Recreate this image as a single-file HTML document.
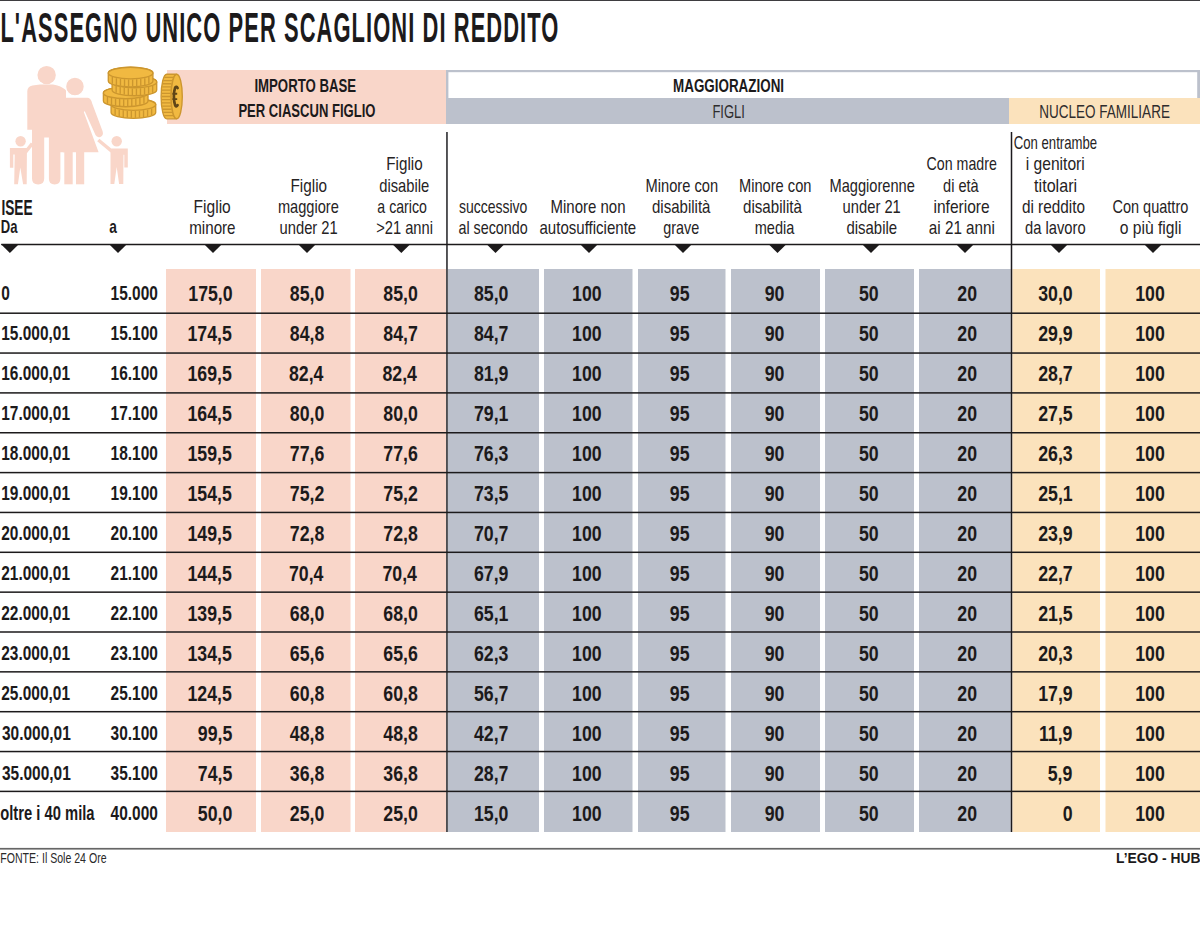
<!DOCTYPE html><html lang="it"><head><meta charset="utf-8"><title>L'assegno unico per scaglioni di reddito</title>
<style>html,body{margin:0;padding:0;background:#fff;width:1200px;height:947px;overflow:hidden;}svg{display:block;}text{font-family:"Liberation Sans",Arial,sans-serif;}</style></head><body>
<svg width="1200" height="947" viewBox="0 0 1200 947">
<rect width="1200" height="947" fill="#fff"/>
<rect x="0" y="0" width="1200" height="1" fill="#3e3d40"/>
<rect x="167" y="70" width="279" height="54" fill="#f9d6c9"/>
<rect x="446" y="70" width="754" height="2.2" fill="#bcc1cc"/>
<rect x="446" y="70" width="2.4" height="30" fill="#bcc1cc"/>
<rect x="1197.2" y="70" width="2.8" height="30" fill="#bcc1cc"/>
<rect x="446" y="98" width="563" height="26" fill="#bcc1cc"/>
<rect x="1009" y="98" width="191" height="26" fill="#fbe2bc"/>
<g fill="#f9d6c9">
<circle cx="46.65" cy="75.1" r="9.2"/>
<path d="M27.3,91.5 Q27.3,86.6 32.5,85.6 L40,84.6 L53,84.6 Q60,85.5 66,90 L66,152.3 L60.4,152.3 L60.4,178.5 Q60.4,184.4 54.6,184.4 Q48.9,184.4 48.9,178.5 L48.9,137.6 L44.2,137.6 L44.2,178.5 Q44.2,184.4 38.1,184.4 Q32,184.4 32,178.5 L32,129.7 L27.3,129.7 Z"/>
<path d="M63,97.7 L87.2,97.7 Q91,97.7 92.2,103.5 L102.6,131.3 Q103.9,135.6 100.4,136.9 Q97,137.9 95.5,135.1 L85.1,111.9 Q84.5,110.5 83.8,112 L98.6,152.2 L63,152.2 Z"/>
<rect x="64.3" y="151" width="8.4" height="33.3"/>
<rect x="76" y="151" width="8.2" height="33.3"/>
<circle cx="74.95" cy="86.5" r="9.4" fill="#f9d6c9" stroke="#fff" stroke-width="1.3"/>
<circle cx="20.6" cy="141.3" r="5.2"/>
<path d="M9.9,148.1 L26.6,148.1 L30.9,142.6 L33.6,144.8 L27.8,152.1 L26.9,153.3 L26.7,184.2 L23.1,184.2 L20.3,167.4 L17.9,184.2 L14.2,184.2 L14.7,154.5 L13.3,154.5 L13.3,167.7 L9.9,167.7 Z"/>
<circle cx="116.7" cy="141.2" r="5.2"/>
<path d="M127.8,148.4 L111.2,148.4 L99.4,138.7 L97.2,141.3 L109.5,151.6 L110.5,152.5 L110.5,184.1 L114.3,184.1 L116.7,167 L119.1,184.1 L123.3,184.1 L123.5,154.8 L124.3,154.8 L124.3,167.6 L127.8,167.6 Z"/>
</g>
<path d="M111.10,104.60 L111.10,112.60 A22.30,5.80 0 0 0 155.70,112.60 L155.70,104.60 A22.30,5.80 0 0 0 111.10,104.60 Z" fill="#f1b941" stroke="#cc962e" stroke-width="1.35"/><path d="M115.15,108.53 L115.15,115.33 M119.21,109.67 L119.21,116.47 M123.26,110.37 L123.26,117.17 M127.32,110.78 L127.32,117.58 M131.37,110.98 L131.37,117.78 M135.43,110.98 L135.43,117.78 M139.48,110.78 L139.48,117.58 M143.54,110.37 L143.54,117.17 M147.59,109.67 L147.59,116.47 M151.65,108.53 L151.65,115.33 " stroke="#cc962e" stroke-width="1.35" fill="none"/><ellipse cx="133.40" cy="104.60" rx="22.30" ry="5.80" fill="#f1b941" stroke="#cc962e" stroke-width="1.35"/>
<path d="M103.40,92.90 L103.40,100.90 A22.30,5.80 0 0 0 148.00,100.90 L148.00,92.90 A22.30,5.80 0 0 0 103.40,92.90 Z" fill="#f1b941" stroke="#cc962e" stroke-width="1.35"/><path d="M107.45,96.83 L107.45,103.63 M111.51,97.97 L111.51,104.77 M115.56,98.67 L115.56,105.47 M119.62,99.08 L119.62,105.88 M123.67,99.28 L123.67,106.08 M127.73,99.28 L127.73,106.08 M131.78,99.08 L131.78,105.88 M135.84,98.67 L135.84,105.47 M139.89,97.97 L139.89,104.77 M143.95,96.83 L143.95,103.63 " stroke="#cc962e" stroke-width="1.35" fill="none"/><ellipse cx="125.70" cy="92.90" rx="22.30" ry="5.80" fill="#f1b941" stroke="#cc962e" stroke-width="1.35"/>
<path d="M112.10,82.00 L112.10,90.00 A22.30,5.80 0 0 0 156.70,90.00 L156.70,82.00 A22.30,5.80 0 0 0 112.10,82.00 Z" fill="#f1b941" stroke="#cc962e" stroke-width="1.35"/><path d="M116.15,85.93 L116.15,92.73 M120.21,87.07 L120.21,93.87 M124.26,87.77 L124.26,94.57 M128.32,88.18 L128.32,94.98 M132.37,88.38 L132.37,95.18 M136.43,88.38 L136.43,95.18 M140.48,88.18 L140.48,94.98 M144.54,87.77 L144.54,94.57 M148.59,87.07 L148.59,93.87 M152.65,85.93 L152.65,92.73 " stroke="#cc962e" stroke-width="1.35" fill="none"/><ellipse cx="134.40" cy="82.00" rx="22.30" ry="5.80" fill="#f1b941" stroke="#cc962e" stroke-width="1.35"/>
<path d="M108.30,73.10 L108.30,81.10 A22.30,5.80 0 0 0 152.90,81.10 L152.90,73.10 A22.30,5.80 0 0 0 108.30,73.10 Z" fill="#f1b941" stroke="#cc962e" stroke-width="1.35"/><path d="M112.35,77.03 L112.35,83.83 M116.41,78.17 L116.41,84.97 M120.46,78.87 L120.46,85.67 M124.52,79.28 L124.52,86.08 M128.57,79.48 L128.57,86.28 M132.63,79.48 L132.63,86.28 M136.68,79.28 L136.68,86.08 M140.74,78.87 L140.74,85.67 M144.79,78.17 L144.79,84.97 M148.85,77.03 L148.85,83.83 " stroke="#cc962e" stroke-width="1.35" fill="none"/><ellipse cx="130.60" cy="73.10" rx="22.30" ry="5.80" fill="#f1b941" stroke="#cc962e" stroke-width="1.35"/>
<path d="M176.70,74.20 L166.70,74.20 A5.60,22.30 0 0 0 166.70,118.80 L176.70,118.80 A5.60,22.30 0 0 1 176.70,74.20 Z" fill="#f1b941" stroke="#cc962e" stroke-width="1.35"/>
<path d="M164.42,77.39 L173.22,77.39 M163.38,80.57 L172.18,80.57 M162.70,83.76 L171.50,83.76 M162.24,86.94 L171.04,86.94 M161.93,90.13 L170.73,90.13 M161.76,93.31 L170.56,93.31 M161.70,96.50 L170.50,96.50 M161.76,99.69 L170.56,99.69 M161.93,102.87 L170.73,102.87 M162.24,106.06 L171.04,106.06 M162.70,109.24 L171.50,109.24 M163.38,112.43 L172.18,112.43 M164.42,115.61 L173.22,115.61 " stroke="#cc962e" stroke-width="1.35" fill="none"/>
<ellipse cx="176.70" cy="96.50" rx="5.60" ry="22.30" fill="#f1b941" stroke="#cc962e" stroke-width="1.35"/>
<g fill="none" stroke="#5f4517" stroke-linecap="butt">
<path d="M177.6,88.0 Q176.5,85.7 175.2,87.6 Q173.9,91 173.9,96.5 Q173.9,102.2 175.2,105.4 Q176.5,107.4 177.6,105.2" stroke-width="2.7" stroke-linecap="round"/>
<path d="M172.4,93.7 L177.2,93.7 M172.4,99.1 L177.2,99.1" stroke-width="1.9"/>
</g>
<text transform="translate(0.42,0) scale(0.5270,1)" x="0" y="42.30" font-size="41.6" font-weight="bold" fill="#1c1a1b" textLength="1058.81" lengthAdjust="spacing">L'ASSEGNO UNICO PER SCAGLIONI DI REDDITO</text>
<text x="254.39" y="91.80" font-size="18.6" font-weight="bold" fill="#1c1a1b" textLength="101.80" lengthAdjust="spacingAndGlyphs">IMPORTO BASE</text>
<text x="238.40" y="117.40" font-size="18.6" font-weight="bold" fill="#1c1a1b" textLength="137.08" lengthAdjust="spacingAndGlyphs">PER CIASCUN FIGLIO</text>
<text x="673.08" y="91.90" font-size="18.6" font-weight="bold" fill="#1c1a1b" textLength="110.99" lengthAdjust="spacingAndGlyphs">MAGGIORAZIONI</text>
<text x="712.39" y="117.80" font-size="18.4" fill="#2e2c2d" textLength="32.51" lengthAdjust="spacingAndGlyphs">FIGLI</text>
<text x="1039.27" y="117.90" font-size="18.4" fill="#2e2c2d" textLength="130.64" lengthAdjust="spacingAndGlyphs">NUCLEO FAMILIARE</text>
<text x="1.38" y="214.80" font-size="22" font-weight="bold" fill="#1c1a1b" textLength="31.21" lengthAdjust="spacingAndGlyphs">ISEE</text>
<text x="0.81" y="232.80" font-size="19" font-weight="bold" fill="#1c1a1b" textLength="16.70" lengthAdjust="spacingAndGlyphs">Da</text>
<text x="109.28" y="232.80" font-size="19" font-weight="bold" fill="#1c1a1b" textLength="7.62" lengthAdjust="spacingAndGlyphs">a</text>
<text x="0.27" y="862.80" font-size="14.4" fill="#2a2a2a" textLength="106.28" lengthAdjust="spacingAndGlyphs">FONTE: Il Sole 24 Ore</text>
<text x="193.58" y="212.50" font-size="19.0" fill="#262324" textLength="37.15" lengthAdjust="spacingAndGlyphs">Figlio</text>
<text x="189.20" y="233.60" font-size="19.0" fill="#262324" textLength="46.36" lengthAdjust="spacingAndGlyphs">minore</text>
<text x="290.50" y="191.50" font-size="19.0" fill="#262324" textLength="36.53" lengthAdjust="spacingAndGlyphs">Figlio</text>
<text x="277.93" y="212.50" font-size="19.0" fill="#262324" textLength="60.94" lengthAdjust="spacingAndGlyphs">maggiore</text>
<text x="279.52" y="233.60" font-size="19.0" fill="#262324" textLength="58.27" lengthAdjust="spacingAndGlyphs">under 21</text>
<text x="386.30" y="170.40" font-size="19.0" fill="#262324" textLength="36.32" lengthAdjust="spacingAndGlyphs">Figlio</text>
<text x="379.22" y="191.50" font-size="19.0" fill="#262324" textLength="50.02" lengthAdjust="spacingAndGlyphs">disabile</text>
<text x="377.36" y="212.50" font-size="19.0" fill="#262324" textLength="49.54" lengthAdjust="spacingAndGlyphs">a carico</text>
<text x="376.13" y="233.60" font-size="19.0" fill="#262324" textLength="56.78" lengthAdjust="spacingAndGlyphs">&gt;21 anni</text>
<text x="458.96" y="212.50" font-size="19.0" fill="#262324" textLength="68.42" lengthAdjust="spacingAndGlyphs">successivo</text>
<text x="458.45" y="233.60" font-size="19.0" fill="#262324" textLength="69.24" lengthAdjust="spacingAndGlyphs">al secondo</text>
<text x="550.51" y="212.50" font-size="19.0" fill="#262324" textLength="75.03" lengthAdjust="spacingAndGlyphs">Minore non</text>
<text x="539.51" y="233.60" font-size="19.0" fill="#262324" textLength="96.73" lengthAdjust="spacingAndGlyphs">autosufficiente</text>
<text x="645.53" y="191.50" font-size="19.0" fill="#262324" textLength="72.54" lengthAdjust="spacingAndGlyphs">Minore con</text>
<text x="651.96" y="212.50" font-size="19.0" fill="#262324" textLength="58.49" lengthAdjust="spacingAndGlyphs">disabilità</text>
<text x="663.24" y="233.60" font-size="19.0" fill="#262324" textLength="35.96" lengthAdjust="spacingAndGlyphs">grave</text>
<text x="738.98" y="191.50" font-size="19.0" fill="#262324" textLength="72.49" lengthAdjust="spacingAndGlyphs">Minore con</text>
<text x="743.00" y="212.50" font-size="19.0" fill="#262324" textLength="58.95" lengthAdjust="spacingAndGlyphs">disabilità</text>
<text x="754.74" y="233.60" font-size="19.0" fill="#262324" textLength="39.57" lengthAdjust="spacingAndGlyphs">media</text>
<text x="829.53" y="191.50" font-size="19.0" fill="#262324" textLength="85.38" lengthAdjust="spacingAndGlyphs">Maggiorenne</text>
<text x="842.62" y="212.50" font-size="19.0" fill="#262324" textLength="58.16" lengthAdjust="spacingAndGlyphs">under 21</text>
<text x="846.41" y="233.60" font-size="19.0" fill="#262324" textLength="50.73" lengthAdjust="spacingAndGlyphs">disabile</text>
<text x="926.55" y="170.40" font-size="19.0" fill="#262324" textLength="70.30" lengthAdjust="spacingAndGlyphs">Con madre</text>
<text x="943.03" y="191.50" font-size="19.0" fill="#262324" textLength="35.67" lengthAdjust="spacingAndGlyphs">di età</text>
<text x="933.48" y="212.50" font-size="19.0" fill="#262324" textLength="56.15" lengthAdjust="spacingAndGlyphs">inferiore</text>
<text x="928.80" y="233.60" font-size="19.0" fill="#262324" textLength="66.13" lengthAdjust="spacingAndGlyphs">ai 21 anni</text>
<text x="1013.71" y="149.30" font-size="19.0" fill="#262324" textLength="83.37" lengthAdjust="spacingAndGlyphs">Con entrambe</text>
<text x="1025.78" y="170.40" font-size="19.0" fill="#262324" textLength="59.00" lengthAdjust="spacingAndGlyphs">i genitori</text>
<text x="1034.10" y="191.50" font-size="19.0" fill="#262324" textLength="42.98" lengthAdjust="spacingAndGlyphs">titolari</text>
<text x="1021.89" y="212.50" font-size="19.0" fill="#262324" textLength="63.15" lengthAdjust="spacingAndGlyphs">di reddito</text>
<text x="1025.02" y="233.60" font-size="19.0" fill="#262324" textLength="60.58" lengthAdjust="spacingAndGlyphs">da lavoro</text>
<text x="1112.44" y="212.50" font-size="19.0" fill="#262324" textLength="75.89" lengthAdjust="spacingAndGlyphs">Con quattro</text>
<text x="1119.68" y="233.60" font-size="19.0" fill="#262324" textLength="61.85" lengthAdjust="spacingAndGlyphs">o più figli</text>
<rect x="166.0" y="269" width="90.0" height="563" fill="#f9d6c9"/>
<rect x="261.0" y="269" width="89.5" height="563" fill="#f9d6c9"/>
<rect x="355.0" y="269" width="91.0" height="563" fill="#f9d6c9"/>
<rect x="447.4" y="269" width="91.6" height="563" fill="#bcc1cc"/>
<rect x="544.0" y="269" width="88.5" height="563" fill="#bcc1cc"/>
<rect x="638.0" y="269" width="87.5" height="563" fill="#bcc1cc"/>
<rect x="731.0" y="269" width="89.0" height="563" fill="#bcc1cc"/>
<rect x="825.0" y="269" width="89.0" height="563" fill="#bcc1cc"/>
<rect x="919.0" y="269" width="91.8" height="563" fill="#bcc1cc"/>
<rect x="1012.4" y="269" width="87.6" height="563" fill="#fbe2bc"/>
<rect x="1105.5" y="269" width="94.5" height="563" fill="#fbe2bc"/>
<rect x="446" y="132" width="1.9" height="700" fill="#4e4e51"/>
<rect x="1010.75" y="132" width="1.5" height="700" fill="#1c1a1e"/>
<rect x="1.3" y="243.75" width="1198.7" height="1.5" fill="#1c1a1b"/>
<path d="M0.8 244 L19.0 244 L9.9 253 Z" fill="#1c1a1b"/>
<path d="M108.9 244 L127.1 244 L118.0 253 Z" fill="#1c1a1b"/>
<path d="M203.9 244 L222.1 244 L213.0 253 Z" fill="#1c1a1b"/>
<path d="M297.9 244 L316.1 244 L307.0 253 Z" fill="#1c1a1b"/>
<path d="M392.2 244 L410.4 244 L401.3 253 Z" fill="#1c1a1b"/>
<path d="M486.4 244 L504.6 244 L495.5 253 Z" fill="#1c1a1b"/>
<path d="M579.9 244 L598.1 244 L589.0 253 Z" fill="#1c1a1b"/>
<path d="M673.9 244 L692.1 244 L683.0 253 Z" fill="#1c1a1b"/>
<path d="M768.4 244 L786.6 244 L777.5 253 Z" fill="#1c1a1b"/>
<path d="M861.9 244 L880.1 244 L871.0 253 Z" fill="#1c1a1b"/>
<path d="M955.9 244 L974.1 244 L965.0 253 Z" fill="#1c1a1b"/>
<path d="M1049.9 244 L1068.1 244 L1059.0 253 Z" fill="#1c1a1b"/>
<path d="M1143.9 244 L1162.1 244 L1153.0 253 Z" fill="#1c1a1b"/>
<rect x="0" y="312.45" width="1200" height="1.5" fill="#1c1a1b"/>
<rect x="0" y="352.30" width="1200" height="1.5" fill="#1c1a1b"/>
<rect x="0" y="392.15" width="1200" height="1.5" fill="#1c1a1b"/>
<rect x="0" y="432.00" width="1200" height="1.5" fill="#1c1a1b"/>
<rect x="0" y="471.85" width="1200" height="1.5" fill="#1c1a1b"/>
<rect x="0" y="511.70" width="1200" height="1.5" fill="#1c1a1b"/>
<rect x="0" y="551.55" width="1200" height="1.5" fill="#1c1a1b"/>
<rect x="0" y="591.40" width="1200" height="1.5" fill="#1c1a1b"/>
<rect x="0" y="631.25" width="1200" height="1.5" fill="#1c1a1b"/>
<rect x="0" y="671.10" width="1200" height="1.5" fill="#1c1a1b"/>
<rect x="0" y="710.95" width="1200" height="1.5" fill="#1c1a1b"/>
<rect x="0" y="750.80" width="1200" height="1.5" fill="#1c1a1b"/>
<rect x="0" y="790.65" width="1200" height="1.5" fill="#1c1a1b"/>
<text x="1.22" y="300.00" font-size="19.8" font-weight="bold" fill="#1c1a1b" textLength="8.61" lengthAdjust="spacingAndGlyphs">0</text>
<text x="110.60" y="300.00" font-size="19.8" font-weight="bold" fill="#1c1a1b" textLength="47.30" lengthAdjust="spacingAndGlyphs">15.000</text>
<text x="188.31" y="301.40" font-size="22.4" font-weight="bold" fill="#1c1a1b" textLength="44.32" lengthAdjust="spacingAndGlyphs">175,0</text>
<text x="289.80" y="301.40" font-size="22.4" font-weight="bold" fill="#1c1a1b" textLength="34.47" lengthAdjust="spacingAndGlyphs">85,0</text>
<text x="383.30" y="301.40" font-size="22.4" font-weight="bold" fill="#1c1a1b" textLength="34.47" lengthAdjust="spacingAndGlyphs">85,0</text>
<text x="474.00" y="301.40" font-size="22.4" font-weight="bold" fill="#1c1a1b" textLength="34.47" lengthAdjust="spacingAndGlyphs">85,0</text>
<text x="572.04" y="301.40" font-size="22.4" font-weight="bold" fill="#1c1a1b" textLength="29.54" lengthAdjust="spacingAndGlyphs">100</text>
<text x="669.83" y="301.40" font-size="22.4" font-weight="bold" fill="#1c1a1b" textLength="19.69" lengthAdjust="spacingAndGlyphs">95</text>
<text x="764.72" y="301.40" font-size="22.4" font-weight="bold" fill="#1c1a1b" textLength="19.69" lengthAdjust="spacingAndGlyphs">90</text>
<text x="859.02" y="301.40" font-size="22.4" font-weight="bold" fill="#1c1a1b" textLength="19.69" lengthAdjust="spacingAndGlyphs">50</text>
<text x="957.32" y="301.40" font-size="22.4" font-weight="bold" fill="#1c1a1b" textLength="19.69" lengthAdjust="spacingAndGlyphs">20</text>
<text x="1038.20" y="301.40" font-size="22.4" font-weight="bold" fill="#1c1a1b" textLength="34.47" lengthAdjust="spacingAndGlyphs">30,0</text>
<text x="1135.24" y="301.40" font-size="22.4" font-weight="bold" fill="#1c1a1b" textLength="29.54" lengthAdjust="spacingAndGlyphs">100</text>
<text x="1.22" y="339.98" font-size="19.8" font-weight="bold" fill="#1c1a1b" textLength="68.79" lengthAdjust="spacingAndGlyphs">15.000,01</text>
<text x="110.60" y="339.98" font-size="19.8" font-weight="bold" fill="#1c1a1b" textLength="47.30" lengthAdjust="spacingAndGlyphs">15.100</text>
<text x="187.52" y="341.38" font-size="22.4" font-weight="bold" fill="#1c1a1b" textLength="44.32" lengthAdjust="spacingAndGlyphs">174,5</text>
<text x="289.80" y="341.38" font-size="22.4" font-weight="bold" fill="#1c1a1b" textLength="34.47" lengthAdjust="spacingAndGlyphs">84,8</text>
<text x="383.30" y="341.38" font-size="22.4" font-weight="bold" fill="#1c1a1b" textLength="34.47" lengthAdjust="spacingAndGlyphs">84,7</text>
<text x="474.00" y="341.38" font-size="22.4" font-weight="bold" fill="#1c1a1b" textLength="34.47" lengthAdjust="spacingAndGlyphs">84,7</text>
<text x="572.04" y="341.38" font-size="22.4" font-weight="bold" fill="#1c1a1b" textLength="29.54" lengthAdjust="spacingAndGlyphs">100</text>
<text x="669.83" y="341.38" font-size="22.4" font-weight="bold" fill="#1c1a1b" textLength="19.69" lengthAdjust="spacingAndGlyphs">95</text>
<text x="764.72" y="341.38" font-size="22.4" font-weight="bold" fill="#1c1a1b" textLength="19.69" lengthAdjust="spacingAndGlyphs">90</text>
<text x="859.02" y="341.38" font-size="22.4" font-weight="bold" fill="#1c1a1b" textLength="19.69" lengthAdjust="spacingAndGlyphs">50</text>
<text x="957.32" y="341.38" font-size="22.4" font-weight="bold" fill="#1c1a1b" textLength="19.69" lengthAdjust="spacingAndGlyphs">20</text>
<text x="1038.20" y="341.38" font-size="22.4" font-weight="bold" fill="#1c1a1b" textLength="34.47" lengthAdjust="spacingAndGlyphs">29,9</text>
<text x="1135.24" y="341.38" font-size="22.4" font-weight="bold" fill="#1c1a1b" textLength="29.54" lengthAdjust="spacingAndGlyphs">100</text>
<text x="1.22" y="379.96" font-size="19.8" font-weight="bold" fill="#1c1a1b" textLength="68.79" lengthAdjust="spacingAndGlyphs">16.000,01</text>
<text x="110.60" y="379.96" font-size="19.8" font-weight="bold" fill="#1c1a1b" textLength="47.30" lengthAdjust="spacingAndGlyphs">16.100</text>
<text x="187.52" y="381.36" font-size="22.4" font-weight="bold" fill="#1c1a1b" textLength="44.32" lengthAdjust="spacingAndGlyphs">169,5</text>
<text x="289.01" y="381.36" font-size="22.4" font-weight="bold" fill="#1c1a1b" textLength="34.47" lengthAdjust="spacingAndGlyphs">82,4</text>
<text x="382.51" y="381.36" font-size="22.4" font-weight="bold" fill="#1c1a1b" textLength="34.47" lengthAdjust="spacingAndGlyphs">82,4</text>
<text x="474.00" y="381.36" font-size="22.4" font-weight="bold" fill="#1c1a1b" textLength="34.47" lengthAdjust="spacingAndGlyphs">81,9</text>
<text x="572.04" y="381.36" font-size="22.4" font-weight="bold" fill="#1c1a1b" textLength="29.54" lengthAdjust="spacingAndGlyphs">100</text>
<text x="669.83" y="381.36" font-size="22.4" font-weight="bold" fill="#1c1a1b" textLength="19.69" lengthAdjust="spacingAndGlyphs">95</text>
<text x="764.72" y="381.36" font-size="22.4" font-weight="bold" fill="#1c1a1b" textLength="19.69" lengthAdjust="spacingAndGlyphs">90</text>
<text x="859.02" y="381.36" font-size="22.4" font-weight="bold" fill="#1c1a1b" textLength="19.69" lengthAdjust="spacingAndGlyphs">50</text>
<text x="957.32" y="381.36" font-size="22.4" font-weight="bold" fill="#1c1a1b" textLength="19.69" lengthAdjust="spacingAndGlyphs">20</text>
<text x="1038.20" y="381.36" font-size="22.4" font-weight="bold" fill="#1c1a1b" textLength="34.47" lengthAdjust="spacingAndGlyphs">28,7</text>
<text x="1135.24" y="381.36" font-size="22.4" font-weight="bold" fill="#1c1a1b" textLength="29.54" lengthAdjust="spacingAndGlyphs">100</text>
<text x="1.22" y="419.94" font-size="19.8" font-weight="bold" fill="#1c1a1b" textLength="68.79" lengthAdjust="spacingAndGlyphs">17.000,01</text>
<text x="110.60" y="419.94" font-size="19.8" font-weight="bold" fill="#1c1a1b" textLength="47.30" lengthAdjust="spacingAndGlyphs">17.100</text>
<text x="187.52" y="421.34" font-size="22.4" font-weight="bold" fill="#1c1a1b" textLength="44.32" lengthAdjust="spacingAndGlyphs">164,5</text>
<text x="289.80" y="421.34" font-size="22.4" font-weight="bold" fill="#1c1a1b" textLength="34.47" lengthAdjust="spacingAndGlyphs">80,0</text>
<text x="383.30" y="421.34" font-size="22.4" font-weight="bold" fill="#1c1a1b" textLength="34.47" lengthAdjust="spacingAndGlyphs">80,0</text>
<text x="474.00" y="421.34" font-size="22.4" font-weight="bold" fill="#1c1a1b" textLength="34.47" lengthAdjust="spacingAndGlyphs">79,1</text>
<text x="572.04" y="421.34" font-size="22.4" font-weight="bold" fill="#1c1a1b" textLength="29.54" lengthAdjust="spacingAndGlyphs">100</text>
<text x="669.83" y="421.34" font-size="22.4" font-weight="bold" fill="#1c1a1b" textLength="19.69" lengthAdjust="spacingAndGlyphs">95</text>
<text x="764.72" y="421.34" font-size="22.4" font-weight="bold" fill="#1c1a1b" textLength="19.69" lengthAdjust="spacingAndGlyphs">90</text>
<text x="859.02" y="421.34" font-size="22.4" font-weight="bold" fill="#1c1a1b" textLength="19.69" lengthAdjust="spacingAndGlyphs">50</text>
<text x="957.32" y="421.34" font-size="22.4" font-weight="bold" fill="#1c1a1b" textLength="19.69" lengthAdjust="spacingAndGlyphs">20</text>
<text x="1038.20" y="421.34" font-size="22.4" font-weight="bold" fill="#1c1a1b" textLength="34.47" lengthAdjust="spacingAndGlyphs">27,5</text>
<text x="1135.24" y="421.34" font-size="22.4" font-weight="bold" fill="#1c1a1b" textLength="29.54" lengthAdjust="spacingAndGlyphs">100</text>
<text x="1.22" y="459.92" font-size="19.8" font-weight="bold" fill="#1c1a1b" textLength="68.79" lengthAdjust="spacingAndGlyphs">18.000,01</text>
<text x="110.60" y="459.92" font-size="19.8" font-weight="bold" fill="#1c1a1b" textLength="47.30" lengthAdjust="spacingAndGlyphs">18.100</text>
<text x="187.52" y="461.32" font-size="22.4" font-weight="bold" fill="#1c1a1b" textLength="44.32" lengthAdjust="spacingAndGlyphs">159,5</text>
<text x="289.80" y="461.32" font-size="22.4" font-weight="bold" fill="#1c1a1b" textLength="34.47" lengthAdjust="spacingAndGlyphs">77,6</text>
<text x="383.30" y="461.32" font-size="22.4" font-weight="bold" fill="#1c1a1b" textLength="34.47" lengthAdjust="spacingAndGlyphs">77,6</text>
<text x="474.00" y="461.32" font-size="22.4" font-weight="bold" fill="#1c1a1b" textLength="34.47" lengthAdjust="spacingAndGlyphs">76,3</text>
<text x="572.04" y="461.32" font-size="22.4" font-weight="bold" fill="#1c1a1b" textLength="29.54" lengthAdjust="spacingAndGlyphs">100</text>
<text x="669.83" y="461.32" font-size="22.4" font-weight="bold" fill="#1c1a1b" textLength="19.69" lengthAdjust="spacingAndGlyphs">95</text>
<text x="764.72" y="461.32" font-size="22.4" font-weight="bold" fill="#1c1a1b" textLength="19.69" lengthAdjust="spacingAndGlyphs">90</text>
<text x="859.02" y="461.32" font-size="22.4" font-weight="bold" fill="#1c1a1b" textLength="19.69" lengthAdjust="spacingAndGlyphs">50</text>
<text x="957.32" y="461.32" font-size="22.4" font-weight="bold" fill="#1c1a1b" textLength="19.69" lengthAdjust="spacingAndGlyphs">20</text>
<text x="1038.20" y="461.32" font-size="22.4" font-weight="bold" fill="#1c1a1b" textLength="34.47" lengthAdjust="spacingAndGlyphs">26,3</text>
<text x="1135.24" y="461.32" font-size="22.4" font-weight="bold" fill="#1c1a1b" textLength="29.54" lengthAdjust="spacingAndGlyphs">100</text>
<text x="1.22" y="499.90" font-size="19.8" font-weight="bold" fill="#1c1a1b" textLength="68.79" lengthAdjust="spacingAndGlyphs">19.000,01</text>
<text x="110.60" y="499.90" font-size="19.8" font-weight="bold" fill="#1c1a1b" textLength="47.30" lengthAdjust="spacingAndGlyphs">19.100</text>
<text x="187.52" y="501.30" font-size="22.4" font-weight="bold" fill="#1c1a1b" textLength="44.32" lengthAdjust="spacingAndGlyphs">154,5</text>
<text x="289.80" y="501.30" font-size="22.4" font-weight="bold" fill="#1c1a1b" textLength="34.47" lengthAdjust="spacingAndGlyphs">75,2</text>
<text x="383.30" y="501.30" font-size="22.4" font-weight="bold" fill="#1c1a1b" textLength="34.47" lengthAdjust="spacingAndGlyphs">75,2</text>
<text x="474.00" y="501.30" font-size="22.4" font-weight="bold" fill="#1c1a1b" textLength="34.47" lengthAdjust="spacingAndGlyphs">73,5</text>
<text x="572.04" y="501.30" font-size="22.4" font-weight="bold" fill="#1c1a1b" textLength="29.54" lengthAdjust="spacingAndGlyphs">100</text>
<text x="669.83" y="501.30" font-size="22.4" font-weight="bold" fill="#1c1a1b" textLength="19.69" lengthAdjust="spacingAndGlyphs">95</text>
<text x="764.72" y="501.30" font-size="22.4" font-weight="bold" fill="#1c1a1b" textLength="19.69" lengthAdjust="spacingAndGlyphs">90</text>
<text x="859.02" y="501.30" font-size="22.4" font-weight="bold" fill="#1c1a1b" textLength="19.69" lengthAdjust="spacingAndGlyphs">50</text>
<text x="957.32" y="501.30" font-size="22.4" font-weight="bold" fill="#1c1a1b" textLength="19.69" lengthAdjust="spacingAndGlyphs">20</text>
<text x="1038.20" y="501.30" font-size="22.4" font-weight="bold" fill="#1c1a1b" textLength="34.47" lengthAdjust="spacingAndGlyphs">25,1</text>
<text x="1135.24" y="501.30" font-size="22.4" font-weight="bold" fill="#1c1a1b" textLength="29.54" lengthAdjust="spacingAndGlyphs">100</text>
<text x="1.22" y="539.88" font-size="19.8" font-weight="bold" fill="#1c1a1b" textLength="68.79" lengthAdjust="spacingAndGlyphs">20.000,01</text>
<text x="110.60" y="539.88" font-size="19.8" font-weight="bold" fill="#1c1a1b" textLength="47.30" lengthAdjust="spacingAndGlyphs">20.100</text>
<text x="187.52" y="541.28" font-size="22.4" font-weight="bold" fill="#1c1a1b" textLength="44.32" lengthAdjust="spacingAndGlyphs">149,5</text>
<text x="289.80" y="541.28" font-size="22.4" font-weight="bold" fill="#1c1a1b" textLength="34.47" lengthAdjust="spacingAndGlyphs">72,8</text>
<text x="383.30" y="541.28" font-size="22.4" font-weight="bold" fill="#1c1a1b" textLength="34.47" lengthAdjust="spacingAndGlyphs">72,8</text>
<text x="474.00" y="541.28" font-size="22.4" font-weight="bold" fill="#1c1a1b" textLength="34.47" lengthAdjust="spacingAndGlyphs">70,7</text>
<text x="572.04" y="541.28" font-size="22.4" font-weight="bold" fill="#1c1a1b" textLength="29.54" lengthAdjust="spacingAndGlyphs">100</text>
<text x="669.83" y="541.28" font-size="22.4" font-weight="bold" fill="#1c1a1b" textLength="19.69" lengthAdjust="spacingAndGlyphs">95</text>
<text x="764.72" y="541.28" font-size="22.4" font-weight="bold" fill="#1c1a1b" textLength="19.69" lengthAdjust="spacingAndGlyphs">90</text>
<text x="859.02" y="541.28" font-size="22.4" font-weight="bold" fill="#1c1a1b" textLength="19.69" lengthAdjust="spacingAndGlyphs">50</text>
<text x="957.32" y="541.28" font-size="22.4" font-weight="bold" fill="#1c1a1b" textLength="19.69" lengthAdjust="spacingAndGlyphs">20</text>
<text x="1038.20" y="541.28" font-size="22.4" font-weight="bold" fill="#1c1a1b" textLength="34.47" lengthAdjust="spacingAndGlyphs">23,9</text>
<text x="1135.24" y="541.28" font-size="22.4" font-weight="bold" fill="#1c1a1b" textLength="29.54" lengthAdjust="spacingAndGlyphs">100</text>
<text x="1.22" y="579.86" font-size="19.8" font-weight="bold" fill="#1c1a1b" textLength="68.79" lengthAdjust="spacingAndGlyphs">21.000,01</text>
<text x="110.60" y="579.86" font-size="19.8" font-weight="bold" fill="#1c1a1b" textLength="47.30" lengthAdjust="spacingAndGlyphs">21.100</text>
<text x="187.52" y="581.26" font-size="22.4" font-weight="bold" fill="#1c1a1b" textLength="44.32" lengthAdjust="spacingAndGlyphs">144,5</text>
<text x="289.01" y="581.26" font-size="22.4" font-weight="bold" fill="#1c1a1b" textLength="34.47" lengthAdjust="spacingAndGlyphs">70,4</text>
<text x="382.51" y="581.26" font-size="22.4" font-weight="bold" fill="#1c1a1b" textLength="34.47" lengthAdjust="spacingAndGlyphs">70,4</text>
<text x="474.00" y="581.26" font-size="22.4" font-weight="bold" fill="#1c1a1b" textLength="34.47" lengthAdjust="spacingAndGlyphs">67,9</text>
<text x="572.04" y="581.26" font-size="22.4" font-weight="bold" fill="#1c1a1b" textLength="29.54" lengthAdjust="spacingAndGlyphs">100</text>
<text x="669.83" y="581.26" font-size="22.4" font-weight="bold" fill="#1c1a1b" textLength="19.69" lengthAdjust="spacingAndGlyphs">95</text>
<text x="764.72" y="581.26" font-size="22.4" font-weight="bold" fill="#1c1a1b" textLength="19.69" lengthAdjust="spacingAndGlyphs">90</text>
<text x="859.02" y="581.26" font-size="22.4" font-weight="bold" fill="#1c1a1b" textLength="19.69" lengthAdjust="spacingAndGlyphs">50</text>
<text x="957.32" y="581.26" font-size="22.4" font-weight="bold" fill="#1c1a1b" textLength="19.69" lengthAdjust="spacingAndGlyphs">20</text>
<text x="1038.20" y="581.26" font-size="22.4" font-weight="bold" fill="#1c1a1b" textLength="34.47" lengthAdjust="spacingAndGlyphs">22,7</text>
<text x="1135.24" y="581.26" font-size="22.4" font-weight="bold" fill="#1c1a1b" textLength="29.54" lengthAdjust="spacingAndGlyphs">100</text>
<text x="1.22" y="619.84" font-size="19.8" font-weight="bold" fill="#1c1a1b" textLength="68.79" lengthAdjust="spacingAndGlyphs">22.000,01</text>
<text x="110.60" y="619.84" font-size="19.8" font-weight="bold" fill="#1c1a1b" textLength="47.30" lengthAdjust="spacingAndGlyphs">22.100</text>
<text x="187.52" y="621.24" font-size="22.4" font-weight="bold" fill="#1c1a1b" textLength="44.32" lengthAdjust="spacingAndGlyphs">139,5</text>
<text x="289.80" y="621.24" font-size="22.4" font-weight="bold" fill="#1c1a1b" textLength="34.47" lengthAdjust="spacingAndGlyphs">68,0</text>
<text x="383.30" y="621.24" font-size="22.4" font-weight="bold" fill="#1c1a1b" textLength="34.47" lengthAdjust="spacingAndGlyphs">68,0</text>
<text x="474.00" y="621.24" font-size="22.4" font-weight="bold" fill="#1c1a1b" textLength="34.47" lengthAdjust="spacingAndGlyphs">65,1</text>
<text x="572.04" y="621.24" font-size="22.4" font-weight="bold" fill="#1c1a1b" textLength="29.54" lengthAdjust="spacingAndGlyphs">100</text>
<text x="669.83" y="621.24" font-size="22.4" font-weight="bold" fill="#1c1a1b" textLength="19.69" lengthAdjust="spacingAndGlyphs">95</text>
<text x="764.72" y="621.24" font-size="22.4" font-weight="bold" fill="#1c1a1b" textLength="19.69" lengthAdjust="spacingAndGlyphs">90</text>
<text x="859.02" y="621.24" font-size="22.4" font-weight="bold" fill="#1c1a1b" textLength="19.69" lengthAdjust="spacingAndGlyphs">50</text>
<text x="957.32" y="621.24" font-size="22.4" font-weight="bold" fill="#1c1a1b" textLength="19.69" lengthAdjust="spacingAndGlyphs">20</text>
<text x="1038.20" y="621.24" font-size="22.4" font-weight="bold" fill="#1c1a1b" textLength="34.47" lengthAdjust="spacingAndGlyphs">21,5</text>
<text x="1135.24" y="621.24" font-size="22.4" font-weight="bold" fill="#1c1a1b" textLength="29.54" lengthAdjust="spacingAndGlyphs">100</text>
<text x="1.22" y="659.82" font-size="19.8" font-weight="bold" fill="#1c1a1b" textLength="68.79" lengthAdjust="spacingAndGlyphs">23.000,01</text>
<text x="110.60" y="659.82" font-size="19.8" font-weight="bold" fill="#1c1a1b" textLength="47.30" lengthAdjust="spacingAndGlyphs">23.100</text>
<text x="187.52" y="661.22" font-size="22.4" font-weight="bold" fill="#1c1a1b" textLength="44.32" lengthAdjust="spacingAndGlyphs">134,5</text>
<text x="289.80" y="661.22" font-size="22.4" font-weight="bold" fill="#1c1a1b" textLength="34.47" lengthAdjust="spacingAndGlyphs">65,6</text>
<text x="383.30" y="661.22" font-size="22.4" font-weight="bold" fill="#1c1a1b" textLength="34.47" lengthAdjust="spacingAndGlyphs">65,6</text>
<text x="474.00" y="661.22" font-size="22.4" font-weight="bold" fill="#1c1a1b" textLength="34.47" lengthAdjust="spacingAndGlyphs">62,3</text>
<text x="572.04" y="661.22" font-size="22.4" font-weight="bold" fill="#1c1a1b" textLength="29.54" lengthAdjust="spacingAndGlyphs">100</text>
<text x="669.83" y="661.22" font-size="22.4" font-weight="bold" fill="#1c1a1b" textLength="19.69" lengthAdjust="spacingAndGlyphs">95</text>
<text x="764.72" y="661.22" font-size="22.4" font-weight="bold" fill="#1c1a1b" textLength="19.69" lengthAdjust="spacingAndGlyphs">90</text>
<text x="859.02" y="661.22" font-size="22.4" font-weight="bold" fill="#1c1a1b" textLength="19.69" lengthAdjust="spacingAndGlyphs">50</text>
<text x="957.32" y="661.22" font-size="22.4" font-weight="bold" fill="#1c1a1b" textLength="19.69" lengthAdjust="spacingAndGlyphs">20</text>
<text x="1038.20" y="661.22" font-size="22.4" font-weight="bold" fill="#1c1a1b" textLength="34.47" lengthAdjust="spacingAndGlyphs">20,3</text>
<text x="1135.24" y="661.22" font-size="22.4" font-weight="bold" fill="#1c1a1b" textLength="29.54" lengthAdjust="spacingAndGlyphs">100</text>
<text x="1.22" y="699.80" font-size="19.8" font-weight="bold" fill="#1c1a1b" textLength="68.79" lengthAdjust="spacingAndGlyphs">25.000,01</text>
<text x="110.60" y="699.80" font-size="19.8" font-weight="bold" fill="#1c1a1b" textLength="47.30" lengthAdjust="spacingAndGlyphs">25.100</text>
<text x="187.52" y="701.20" font-size="22.4" font-weight="bold" fill="#1c1a1b" textLength="44.32" lengthAdjust="spacingAndGlyphs">124,5</text>
<text x="289.80" y="701.20" font-size="22.4" font-weight="bold" fill="#1c1a1b" textLength="34.47" lengthAdjust="spacingAndGlyphs">60,8</text>
<text x="383.30" y="701.20" font-size="22.4" font-weight="bold" fill="#1c1a1b" textLength="34.47" lengthAdjust="spacingAndGlyphs">60,8</text>
<text x="474.00" y="701.20" font-size="22.4" font-weight="bold" fill="#1c1a1b" textLength="34.47" lengthAdjust="spacingAndGlyphs">56,7</text>
<text x="572.04" y="701.20" font-size="22.4" font-weight="bold" fill="#1c1a1b" textLength="29.54" lengthAdjust="spacingAndGlyphs">100</text>
<text x="669.83" y="701.20" font-size="22.4" font-weight="bold" fill="#1c1a1b" textLength="19.69" lengthAdjust="spacingAndGlyphs">95</text>
<text x="764.72" y="701.20" font-size="22.4" font-weight="bold" fill="#1c1a1b" textLength="19.69" lengthAdjust="spacingAndGlyphs">90</text>
<text x="859.02" y="701.20" font-size="22.4" font-weight="bold" fill="#1c1a1b" textLength="19.69" lengthAdjust="spacingAndGlyphs">50</text>
<text x="957.32" y="701.20" font-size="22.4" font-weight="bold" fill="#1c1a1b" textLength="19.69" lengthAdjust="spacingAndGlyphs">20</text>
<text x="1038.20" y="701.20" font-size="22.4" font-weight="bold" fill="#1c1a1b" textLength="34.47" lengthAdjust="spacingAndGlyphs">17,9</text>
<text x="1135.24" y="701.20" font-size="22.4" font-weight="bold" fill="#1c1a1b" textLength="29.54" lengthAdjust="spacingAndGlyphs">100</text>
<text x="2.00" y="739.78" font-size="19.8" font-weight="bold" fill="#1c1a1b" textLength="68.79" lengthAdjust="spacingAndGlyphs">30.000,01</text>
<text x="110.60" y="739.78" font-size="19.8" font-weight="bold" fill="#1c1a1b" textLength="47.30" lengthAdjust="spacingAndGlyphs">30.100</text>
<text x="197.80" y="741.18" font-size="22.4" font-weight="bold" fill="#1c1a1b" textLength="34.47" lengthAdjust="spacingAndGlyphs">99,5</text>
<text x="289.80" y="741.18" font-size="22.4" font-weight="bold" fill="#1c1a1b" textLength="34.47" lengthAdjust="spacingAndGlyphs">48,8</text>
<text x="383.30" y="741.18" font-size="22.4" font-weight="bold" fill="#1c1a1b" textLength="34.47" lengthAdjust="spacingAndGlyphs">48,8</text>
<text x="474.00" y="741.18" font-size="22.4" font-weight="bold" fill="#1c1a1b" textLength="34.47" lengthAdjust="spacingAndGlyphs">42,7</text>
<text x="572.04" y="741.18" font-size="22.4" font-weight="bold" fill="#1c1a1b" textLength="29.54" lengthAdjust="spacingAndGlyphs">100</text>
<text x="669.83" y="741.18" font-size="22.4" font-weight="bold" fill="#1c1a1b" textLength="19.69" lengthAdjust="spacingAndGlyphs">95</text>
<text x="764.72" y="741.18" font-size="22.4" font-weight="bold" fill="#1c1a1b" textLength="19.69" lengthAdjust="spacingAndGlyphs">90</text>
<text x="859.02" y="741.18" font-size="22.4" font-weight="bold" fill="#1c1a1b" textLength="19.69" lengthAdjust="spacingAndGlyphs">50</text>
<text x="957.32" y="741.18" font-size="22.4" font-weight="bold" fill="#1c1a1b" textLength="19.69" lengthAdjust="spacingAndGlyphs">20</text>
<text x="1038.99" y="741.18" font-size="22.4" font-weight="bold" fill="#1c1a1b" textLength="33.48" lengthAdjust="spacingAndGlyphs">11,9</text>
<text x="1135.24" y="741.18" font-size="22.4" font-weight="bold" fill="#1c1a1b" textLength="29.54" lengthAdjust="spacingAndGlyphs">100</text>
<text x="2.00" y="779.76" font-size="19.8" font-weight="bold" fill="#1c1a1b" textLength="68.79" lengthAdjust="spacingAndGlyphs">35.000,01</text>
<text x="110.60" y="779.76" font-size="19.8" font-weight="bold" fill="#1c1a1b" textLength="47.30" lengthAdjust="spacingAndGlyphs">35.100</text>
<text x="197.80" y="781.16" font-size="22.4" font-weight="bold" fill="#1c1a1b" textLength="34.47" lengthAdjust="spacingAndGlyphs">74,5</text>
<text x="289.80" y="781.16" font-size="22.4" font-weight="bold" fill="#1c1a1b" textLength="34.47" lengthAdjust="spacingAndGlyphs">36,8</text>
<text x="383.30" y="781.16" font-size="22.4" font-weight="bold" fill="#1c1a1b" textLength="34.47" lengthAdjust="spacingAndGlyphs">36,8</text>
<text x="474.00" y="781.16" font-size="22.4" font-weight="bold" fill="#1c1a1b" textLength="34.47" lengthAdjust="spacingAndGlyphs">28,7</text>
<text x="572.04" y="781.16" font-size="22.4" font-weight="bold" fill="#1c1a1b" textLength="29.54" lengthAdjust="spacingAndGlyphs">100</text>
<text x="669.83" y="781.16" font-size="22.4" font-weight="bold" fill="#1c1a1b" textLength="19.69" lengthAdjust="spacingAndGlyphs">95</text>
<text x="764.72" y="781.16" font-size="22.4" font-weight="bold" fill="#1c1a1b" textLength="19.69" lengthAdjust="spacingAndGlyphs">90</text>
<text x="859.02" y="781.16" font-size="22.4" font-weight="bold" fill="#1c1a1b" textLength="19.69" lengthAdjust="spacingAndGlyphs">50</text>
<text x="957.32" y="781.16" font-size="22.4" font-weight="bold" fill="#1c1a1b" textLength="19.69" lengthAdjust="spacingAndGlyphs">20</text>
<text x="1047.69" y="781.16" font-size="22.4" font-weight="bold" fill="#1c1a1b" textLength="24.62" lengthAdjust="spacingAndGlyphs">5,9</text>
<text x="1135.24" y="781.16" font-size="22.4" font-weight="bold" fill="#1c1a1b" textLength="29.54" lengthAdjust="spacingAndGlyphs">100</text>
<text x="0.25" y="819.74" font-size="19.8" font-weight="bold" fill="#1c1a1b" textLength="94.33" lengthAdjust="spacingAndGlyphs">oltre i 40 mila</text>
<text x="110.60" y="819.74" font-size="19.8" font-weight="bold" fill="#1c1a1b" textLength="47.30" lengthAdjust="spacingAndGlyphs">40.000</text>
<text x="197.80" y="821.14" font-size="22.4" font-weight="bold" fill="#1c1a1b" textLength="34.47" lengthAdjust="spacingAndGlyphs">50,0</text>
<text x="289.80" y="821.14" font-size="22.4" font-weight="bold" fill="#1c1a1b" textLength="34.47" lengthAdjust="spacingAndGlyphs">25,0</text>
<text x="383.30" y="821.14" font-size="22.4" font-weight="bold" fill="#1c1a1b" textLength="34.47" lengthAdjust="spacingAndGlyphs">25,0</text>
<text x="474.00" y="821.14" font-size="22.4" font-weight="bold" fill="#1c1a1b" textLength="34.47" lengthAdjust="spacingAndGlyphs">15,0</text>
<text x="572.04" y="821.14" font-size="22.4" font-weight="bold" fill="#1c1a1b" textLength="29.54" lengthAdjust="spacingAndGlyphs">100</text>
<text x="669.83" y="821.14" font-size="22.4" font-weight="bold" fill="#1c1a1b" textLength="19.69" lengthAdjust="spacingAndGlyphs">95</text>
<text x="764.72" y="821.14" font-size="22.4" font-weight="bold" fill="#1c1a1b" textLength="19.69" lengthAdjust="spacingAndGlyphs">90</text>
<text x="859.02" y="821.14" font-size="22.4" font-weight="bold" fill="#1c1a1b" textLength="19.69" lengthAdjust="spacingAndGlyphs">50</text>
<text x="957.32" y="821.14" font-size="22.4" font-weight="bold" fill="#1c1a1b" textLength="19.69" lengthAdjust="spacingAndGlyphs">20</text>
<text x="1062.71" y="821.14" font-size="22.4" font-weight="bold" fill="#1c1a1b" textLength="9.85" lengthAdjust="spacingAndGlyphs">0</text>
<text x="1135.24" y="821.14" font-size="22.4" font-weight="bold" fill="#1c1a1b" textLength="29.54" lengthAdjust="spacingAndGlyphs">100</text>
<rect x="0" y="847.9" width="1200" height="1.7" fill="#666"/>
<text x="1200.5" y="862.9" text-anchor="end" font-size="14" font-weight="bold" fill="#1c1a1b" textLength="84.5" lengthAdjust="spacingAndGlyphs">L’EGO - HUB</text>
</svg></body></html>
